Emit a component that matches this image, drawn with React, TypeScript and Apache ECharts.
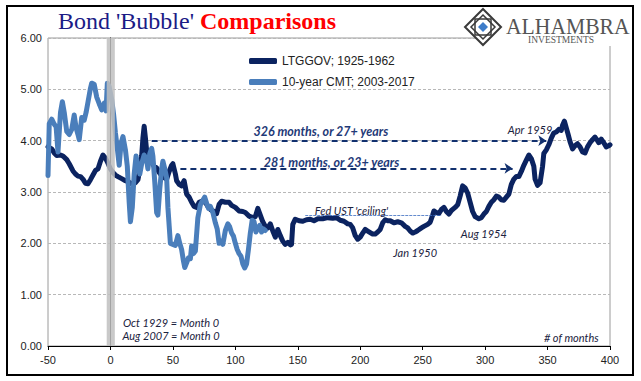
import React, { useEffect, useRef } from "react";
import * as echarts from "echarts";

// LTGGOV 1925-1962 (month index relative to Oct 1929)
const ltgMonths = [-50, -47, -45, -43, -40, -38, -35, -33, -30, -28, -26, -24, -22, -20, -18, -16, -14, -12, -10, -8, -6, -4, -2, 0, 2, 4, 6, 9, 12, 14, 17, 20, 22, 24, 25, 26, 27, 28, 29, 31, 33, 35, 37, 39, 41, 43, 45, 47, 49, 50, 52, 53, 55, 57, 59, 61, 63, 65, 67, 69, 71, 73, 76, 78, 80, 83, 85, 87, 89, 92, 95, 97, 100, 103, 106, 108, 111, 114, 116, 118, 120, 122, 124, 126, 128, 130, 132, 134, 136, 138, 140, 142, 144, 145, 146, 148, 151, 154, 157, 160, 163, 166, 170, 174, 178, 181, 184, 187, 190, 192, 194, 196, 198, 200, 202, 204, 206, 208, 210, 212, 214, 216, 218, 220, 222, 224, 227, 230, 233, 236, 238, 240, 242, 244, 246, 249, 251, 254, 256, 258, 259, 261, 263, 265, 267, 269, 271, 273, 276, 278, 280, 282, 284, 286, 288, 290, 292, 295, 297, 299, 301, 303, 305, 307, 309, 311, 313, 315, 317, 319, 321, 323, 325, 327, 329, 331, 333, 335, 337, 339, 340, 342, 344, 346, 347, 349, 351, 353, 355, 357, 359, 361, 362, 363.5, 365, 366.5, 368, 370, 372, 374, 376, 378, 380, 382, 384, 386, 388, 390, 391, 393, 395, 397, 399, 400];
const ltgYield = [3.88, 3.84, 3.76, 3.71, 3.72, 3.70, 3.63, 3.55, 3.41, 3.35, 3.31, 3.30, 3.25, 3.17, 3.16, 3.24, 3.33, 3.42, 3.45, 3.60, 3.72, 3.66, 3.56, 3.45, 3.38, 3.33, 3.30, 3.26, 3.22, 3.20, 3.16, 3.18, 3.24, 3.50, 3.70, 4.05, 4.28, 4.05, 3.80, 3.62, 3.58, 3.50, 3.47, 3.38, 3.32, 3.28, 3.25, 3.40, 3.52, 3.55, 3.35, 3.22, 3.15, 3.12, 3.22, 2.96, 2.90, 2.80, 2.72, 2.70, 2.80, 2.82, 2.80, 2.72, 2.66, 2.62, 2.58, 2.76, 2.82, 2.80, 2.80, 2.74, 2.70, 2.63, 2.62, 2.60, 2.53, 2.50, 2.52, 2.68, 2.55, 2.42, 2.33, 2.30, 2.38, 2.24, 2.12, 2.27, 2.15, 2.04, 1.98, 2.02, 1.97, 1.98, 2.37, 2.47, 2.44, 2.43, 2.46, 2.47, 2.44, 2.48, 2.48, 2.50, 2.49, 2.50, 2.45, 2.43, 2.38, 2.37, 2.30, 2.15, 2.08, 2.12, 2.20, 2.27, 2.24, 2.21, 2.18, 2.18, 2.22, 2.27, 2.40, 2.46, 2.44, 2.44, 2.40, 2.42, 2.40, 2.33, 2.30, 2.24, 2.20, 2.22, 2.25, 2.30, 2.33, 2.37, 2.41, 2.55, 2.63, 2.60, 2.58, 2.66, 2.70, 2.62, 2.57, 2.64, 2.70, 2.75, 2.92, 3.12, 3.08, 2.98, 2.80, 2.62, 2.52, 2.48, 2.50, 2.57, 2.62, 2.72, 2.80, 2.85, 2.92, 2.90, 2.85, 2.84, 2.90, 2.96, 3.15, 3.25, 3.30, 3.30, 3.40, 3.52, 3.62, 3.72, 3.65, 3.50, 3.25, 3.13, 3.18, 3.50, 3.75, 3.82, 3.92, 4.05, 4.15, 4.17, 4.22, 4.20, 4.30, 4.38, 4.25, 4.12, 3.98, 3.84, 3.90, 3.94, 3.88, 3.78, 3.76, 3.88, 3.96, 4.02, 4.07, 4.00, 3.96, 4.03, 3.96, 3.88, 3.90, 3.92];

// 10-year CMT 2003-2017 (month index relative to Aug 2007)
const cmtMonths = [-50, -49, -47, -45, -43.5, -42, -40, -38.5, -37, -35, -33, -31, -29, -27.5, -26, -25, -23, -21, -19.5, -18, -16, -15, -13, -11, -9, -7, -5, -3.5, -2.5, -1, 1, 2.5, 4, 5.5, 7, 8.5, 10, 12, 13.5, 15, 16, 17.5, 19, 20.5, 22, 23.5, 25, 27, 29, 30, 31.5, 33, 34, 35.5, 37, 38, 39.5, 41, 42, 43.5, 45, 46, 48, 50, 52, 54, 55.5, 57, 58.5, 59.5, 61, 62.5, 64, 65, 66.5, 68, 70, 72, 73.5, 75.5, 77, 78.5, 80, 82, 84, 85.5, 87, 88.5, 90, 92, 94, 95.5, 97, 98.5, 100, 101.5, 103, 104.5, 106, 107.5, 109, 110.5, 112, 113.5, 115, 116.5, 118, 119.5, 121, 122.5, 124];
const cmtYield = [3.32, 4.33, 4.42, 4.32, 4.27, 3.78, 4.55, 4.76, 4.55, 4.18, 4.12, 4.22, 4.50, 4.25, 4.12, 4.02, 4.45, 4.40, 4.55, 4.75, 5.02, 5.12, 5.10, 4.85, 4.72, 4.60, 4.73, 4.58, 5.12, 5.05, 4.80, 4.52, 4.15, 3.85, 3.52, 3.95, 4.08, 3.82, 3.50, 2.80, 2.42, 2.70, 3.35, 3.70, 3.50, 3.35, 3.55, 3.72, 3.62, 3.45, 3.75, 3.85, 3.70, 3.19, 2.60, 2.55, 3.06, 3.45, 3.60, 3.45, 3.28, 2.70, 2.00, 1.98, 1.96, 2.15, 2.00, 1.88, 1.65, 1.53, 1.62, 1.72, 1.70, 1.95, 1.80, 1.85, 2.50, 2.75, 2.82, 2.90, 2.78, 2.68, 2.72, 2.60, 2.40, 2.28, 2.00, 2.05, 1.98, 2.25, 2.38, 2.32, 2.20, 2.14, 2.00, 1.88, 1.80, 1.75, 1.60, 1.52, 1.60, 1.88, 2.20, 2.45, 2.42, 2.22, 2.30, 2.35, 2.22, 2.28, 2.25];

const seriesNames = ["LTGGOV; 1925-1962", "10-year CMT; 2003-2017"];
const xTicks = { min: -50, max: 400, step: 50 };
const yTicks = { min: 0, max: 6, step: 1 };

// annotations: [text, month, yield]
const notes: [string, number, number][] = [
  ["Apr 1959", 336, 4.22],
  ["Fed UST 'ceiling'", 193, 2.64],
  ["Jan 1950", 244, 1.82],
  ["Aug 1954", 299, 2.19],
  ["Oct 1929 = Month 0", 48.5, 0.45],
  ["Aug 2007 = Month 0", 48.5, 0.21],
  ["# of months", 369, 0.17],
];
const spans: [string, number, number, number][] = [
  ["326 months, or 27+ years", 33, 349, 4.0],
  ["281 months, or 23+ years", 56, 322, 3.46],
];
const spanLabelPos: [number, number][] = [
  [168.5, 4.17],
  [177, 3.58],
];
const ceiling = { from: 156, to: 265, level: 2.55 };
const band = { from: -3, to: 3.5 };

const NAVY = "#0b2360";
const LIGHT = "#4a7ebb";
const NOTE = "#1c2340";
const FONT = "Lato, 'Open Sans', sans-serif";

export default function App() {
  const ref = useRef<HTMLDivElement>(null);
  useEffect(() => {
    document.body.style.margin = "0";
    const chart = echarts.init(ref.current!, null, { renderer: "svg" });
    const ltg = ltgMonths.map((m, i) => [m, ltgYield[i]]);
    const cmt = cmtMonths.map((m, i) => [m, cmtYield[i]]);

    const notePoints: any[] = notes.map(([t, x, y]) => ({
      coord: [x, y],
      symbol: "rect",
      symbolSize: 1,
      itemStyle: { color: "rgba(0,0,0,0)" },
      label: {
        show: true,
        position: "inside",
        formatter: t,
        color: NOTE,
        fontFamily: FONT,
        fontStyle: "italic",
        fontSize: 11,
      },
    }));
    spans.forEach(([t], i) => {
      notePoints.push({
        coord: spanLabelPos[i],
        symbol: "rect",
        symbolSize: 1,
        itemStyle: { color: "rgba(0,0,0,0)" },
        label: {
          show: true,
          position: "inside",
          formatter: t,
          color: "#1f3a78",
          fontFamily: FONT,
          fontStyle: "italic",
          fontWeight: "bold",
          fontSize: 12.5,
        },
      });
    });

    const markLines: any[] = spans.map(([, a, b, y]) => [
      { coord: [a, y], symbol: "none" },
      { coord: [b, y], symbol: "arrow", symbolSize: 8 },
    ]);
    markLines.push([
      {
        coord: [ceiling.from, ceiling.level],
        symbol: "none",
        lineStyle: { color: "#3b6cc0", width: 0.8, type: [3, 1] },
      },
      { coord: [ceiling.to, ceiling.level], symbol: "none" },
    ]);

    chart.setOption({
      animation: false,
      textStyle: { fontFamily: "'Liberation Sans', Arial, sans-serif" },
      grid: {
        left: 48,
        right: 31,
        top: 38,
        bottom: 35,
        show: true,
        borderColor: "#9a9a9a",
        borderWidth: 1,
      },
      legend: {
        data: seriesNames,
        orient: "vertical",
        left: 244,
        top: 50,
        itemGap: 9,
        itemWidth: 28,
        itemHeight: 6,
        icon: "roundRect",
        textStyle: { fontFamily: "'Liberation Sans', Arial, sans-serif", fontSize: 12, color: "#222" },
      },
      xAxis: {
        type: "value",
        min: xTicks.min,
        max: xTicks.max,
        interval: xTicks.step,
        axisLine: { lineStyle: { color: "#000", width: 1 } },
        axisTick: { show: true, length: 4, lineStyle: { color: "#000" } },
        axisLabel: { color: "#222", fontSize: 11, margin: 8, fontFamily: "'Liberation Sans Narrow', 'Liberation Sans', sans-serif" },
        splitLine: { show: false },
      },
      yAxis: {
        type: "value",
        min: yTicks.min,
        max: yTicks.max,
        interval: yTicks.step,
        axisLine: { show: true, lineStyle: { color: "#000", width: 1 } },
        axisTick: { show: false },
        axisLabel: {
          color: "#222",
          fontSize: 11,
          margin: 6,
          fontFamily: "'Liberation Sans Narrow', 'Liberation Sans', sans-serif",
          formatter: (v: number) => v.toFixed(2),
        },
        splitLine: { show: true, lineStyle: { color: "#b8b8b8", type: [3, 2], width: 1 } },
      },
      series: [
        {
          name: seriesNames[0],
          type: "line",
          data: ltg,
          symbol: "none",
          color: NAVY,
          z: 3,
          lineStyle: { width: 5, color: NAVY, cap: "round", join: "round" },
          markLine: {
            silent: true,
            symbolSize: 8,
            label: { show: false },
            lineStyle: { color: "#12306e", width: 2, type: [6, 4] },
            data: markLines,
          },
          markPoint: { silent: true, data: notePoints },
        },
        {
          name: seriesNames[1],
          type: "line",
          data: cmt,
          symbol: "none",
          color: LIGHT,
          z: 4,
          lineStyle: { width: 5, color: LIGHT, cap: "round", join: "round" },
        },
        {
          name: "band",
          type: "custom",
          z: 8,
          silent: true,
          data: [[band.from, band.to]],
          renderItem: (params: any, api: any) => {
            const p0 = api.coord([api.value(0), yTicks.max]);
            const p1 = api.coord([api.value(1), yTicks.min]);
            return {
              type: "rect",
              shape: { x: p0[0], y: p0[1], width: p1[0] - p0[0], height: p1[1] - p0[1] },
              style: { fill: "rgba(192,192,192,0.85)" },
            };
          },
        },
      ],
      graphic: [
        {
          type: "rect",
          z: 100,
          shape: { x: 490, y: 7, width: 142, height: 39 },
          style: { fill: "#fff" },
        },
        {
          type: "polygon",
          z: 101,
          shape: { points: [[483, 9], [501, 27], [483, 45], [465, 27]] },
          style: { fill: "#fff", stroke: "#3a3a3a", lineWidth: 2 },
        },
        {
          type: "polygon",
          z: 102,
          shape: { points: [[483, 15], [495, 27], [483, 39], [471, 27]] },
          style: { fill: "none", stroke: "#3a3a3a", lineWidth: 1.5 },
        },
        {
          type: "rect",
          z: 102,
          shape: { x: 475, y: 19, width: 16, height: 16 },
          style: { fill: "none", stroke: "#3a3a3a", lineWidth: 1.5 },
        },
        {
          type: "polygon",
          z: 103,
          shape: { points: [[483, 22], [488, 27], [483, 32], [478, 27]] },
          style: { fill: "#3d7cc9" },
        },
        {
          type: "text",
          z: 101,
          left: 506,
          top: 14,
          style: { text: "ALHAMBRA", font: "24px 'Liberation Serif', serif", fill: "#555" },
          scaleX: 0.9,
        },
        {
          type: "text",
          z: 101,
          left: 528,
          top: 35,
          style: { text: "INVESTMENTS", font: "9.5px 'Liberation Serif', serif", fill: "#555" },
        },
        {
          type: "text",
          z: 101,
          left: 58,
          top: 9,
          style: {
            text: "{a|Bond 'Bubble' }{b|Comparisons}",
            rich: {
              a: { fontFamily: "'Liberation Serif', serif", fontSize: 24, fill: "#1b1b86", color: "#1b1b86" },
              b: { fontFamily: "'Liberation Serif', serif", fontSize: 24, fontWeight: "bold", fill: "#ff0000", color: "#ff0000" },
            },
          },
        },
        {
          type: "rect",
          z: 110,
          shape: { x: 7, y: 6, width: 626, height: 369 },
          style: { fill: "none", stroke: "#000", lineWidth: 2 },
        },
      ],
    });
    return () => chart.dispose();
  }, []);
  return <div ref={ref} style={{ position: "fixed", left: 0, top: 0, width: 641, height: 381, background: "#fff" }} />;
}
